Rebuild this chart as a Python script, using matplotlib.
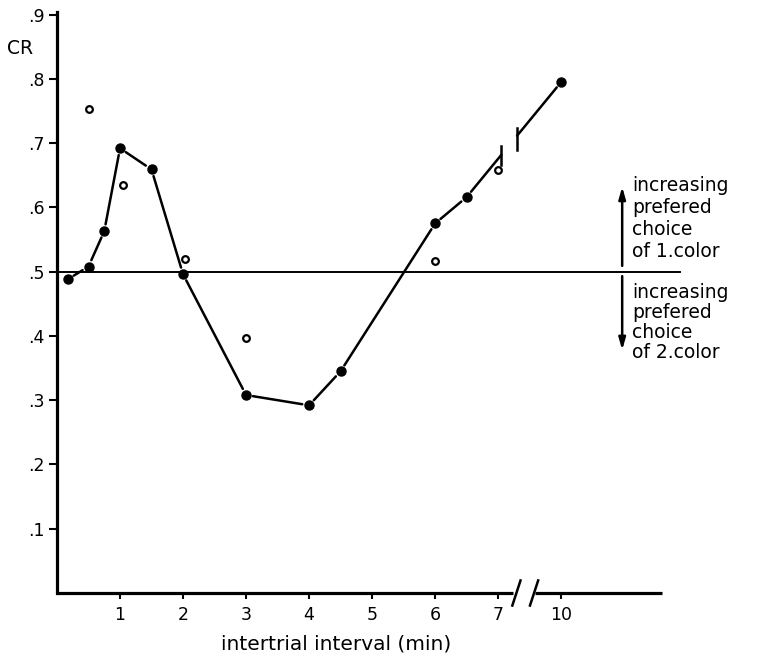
import matplotlib
matplotlib.use("Agg")
import matplotlib.pyplot as plt
import numpy as np

plt.rcParams['font.family'] = ['DejaVu Sans']

# filled dots (joined by the line) and open circles
x_filled = [0.17, 0.5, 0.75, 1.0, 1.5, 2.0, 3.0, 4.0, 4.5, 6.0, 6.5, 10.0]
cr_filled = [0.488, 0.508, 0.563, 0.692, 0.659, 0.496, 0.308, 0.292, 0.345, 0.575, 0.616, 0.795]
x_open = [0.5, 1.05, 2.03, 3.0, 6.0, 7.0]
cr_open = [0.753, 0.635, 0.519, 0.397, 0.516, 0.658]

x_ticks = [1, 2, 3, 4, 5, 6, 7, 10]
y_ticks = [0.1, 0.2, 0.3, 0.4, 0.5, 0.6, 0.7, 0.8, 0.9]
y_ticklabels = ['.1', '.2', '.3', '.4', '.5', '.6', '.7', '.8', '.9']

up_text = "increasing\nprefered\nchoice\nof 1.color"
down_text = "increasing\nprefered\nchoice\nof 2.color"


def to_axis(x):
    """compress the part after the axis break (7 -> 10)"""
    return x if x <= 7 else 7 + (x - 7) / 3.0


fig = plt.figure(figsize=(7.61, 6.57), dpi=100)
ax = fig.add_axes([57 / 761, 64 / 657, 605 / 761, 581 / 657])
ax.set_xlim(0, 9.6)
ax.set_ylim(0, 0.904)

for side in ['top', 'right', 'bottom']:
    ax.spines[side].set_visible(False)
ax.spines['left'].set_linewidth(2.3)

# broken x axis
ax.plot([0, 7.24], [0, 0], color='k', lw=2.3, clip_on=False, solid_capstyle='butt')
ax.plot([7.59, 9.6], [0, 0], color='k', lw=2.3, clip_on=False, solid_capstyle='butt')
for xc in [7.29, 7.57]:
    ax.plot([xc - 0.065, xc + 0.065], [-0.0195, 0.0195], color='k', lw=1.8, clip_on=False)

ax.set_xticks([to_axis(v) for v in x_ticks])
ax.set_xticklabels([str(v) for v in x_ticks])
ax.set_yticks(y_ticks)
ax.set_yticklabels(y_ticklabels)
ax.tick_params(axis='x', direction='out', length=4.5, width=1.5, pad=5, labelsize=12.5)
ax.tick_params(axis='y', direction='out', length=6, width=1.5, pad=3, labelsize=12.5)

ax.set_xlabel('intertrial interval (min)', fontsize=14.5)
ax.xaxis.set_label_coords(0.461, -0.071)
fig.text(20 / 761, 1 - 48 / 657, 'CR', ha='center', va='center', fontsize=13.5)

# reference line at .5
ax.axhline(0.5, xmin=0, xmax=(680 - 57) / 605, color='k', lw=1.4, clip_on=False)

# connecting line, drawn piecewise with small gaps at the dots
xs = [to_axis(v) for v in x_filled]


def seg(x0, y0, x1, y1, sa=5, sb=5):
    ax.annotate('', xy=(x1, y1), xytext=(x0, y0),
                arrowprops=dict(arrowstyle='-', lw=1.8, color='k',
                                shrinkA=sa, shrinkB=sb))


for i in range(len(xs) - 1):
    x0, y0, x1, y1 = xs[i], cr_filled[i], xs[i + 1], cr_filled[i + 1]
    if x1 > 7:
        yb0 = np.interp(7.05, [x0, x1], [y0, y1])
        yb1 = np.interp(7.3, [x0, x1], [y0, y1])
        seg(x0, y0, 7.05, yb0, sb=0)
        seg(7.3, yb1, x1, y1, sa=0)
        ax.plot([7.05, 7.05], [yb0 - 0.016, yb0 + 0.014], color='k', lw=1.8)
        ax.plot([7.3, 7.3], [yb1 - 0.022, yb1 + 0.012], color='k', lw=1.8)
    else:
        seg(x0, y0, x1, y1)

ax.plot(xs, cr_filled, 'o', ms=6.5, color='k', ls='none', zorder=3)
ax.plot([to_axis(v) for v in x_open], cr_open, 'o', ms=4.8, mfc='white',
        mec='k', mew=1.6, ls='none', zorder=3)

# arrows and side annotation
x_arrow = (622 - 57) / 63
ax.annotate('', xy=(x_arrow, 0.632), xytext=(x_arrow, 0.509),
            arrowprops=dict(arrowstyle='-|>,head_length=0.7,head_width=0.2',
                            lw=1.8, color='k', shrinkA=0, shrinkB=0),
            annotation_clip=False)
ax.annotate('', xy=(x_arrow, 0.378), xytext=(x_arrow, 0.493),
            arrowprops=dict(arrowstyle='-|>,head_length=0.7,head_width=0.2',
                            lw=1.8, color='k', shrinkA=0, shrinkB=0),
            annotation_clip=False)
ax.text(9.13, 0.583, up_text, ha='left', va='center', fontsize=13.5, linespacing=1.2)
ax.text(9.13, 0.421, down_text, ha='left', va='center', fontsize=13.5, linespacing=1.08)

fig.savefig('out.png', dpi=100)
